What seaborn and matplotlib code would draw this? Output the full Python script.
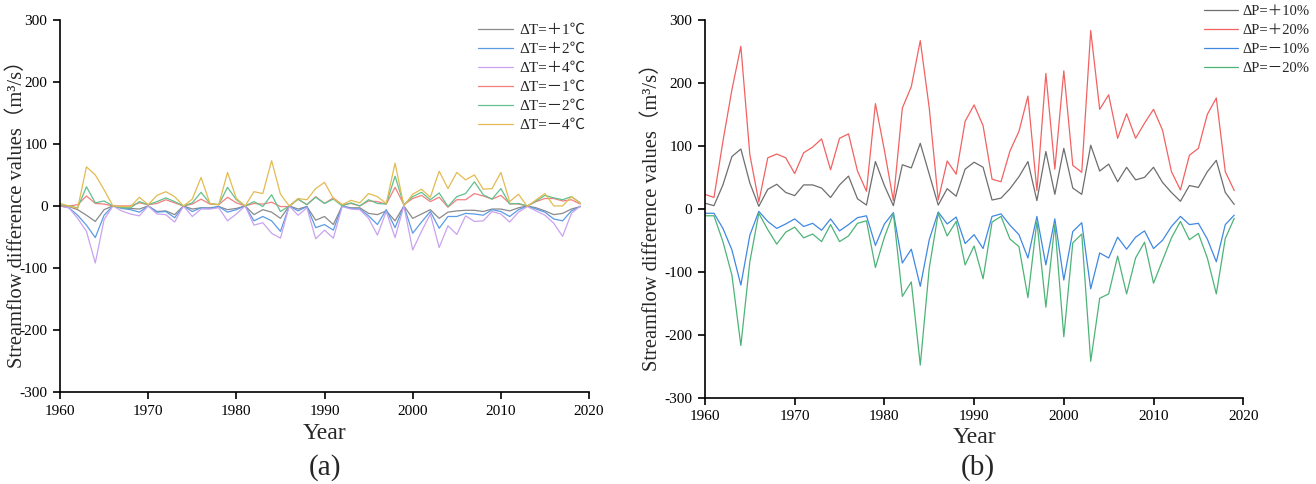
#!/usr/bin/env python3

import pandas as pd
import seaborn as sns
import matplotlib.pyplot as plt

years = list(range(1960, 2020))

# panel (a): temperature change scenarios
t_plus1 = [0, -1, -6, -15, -25, -6, 0, -3, -4, -5, 0, -9, -8, -14, 0, -5, -3, -3, -1, -6,
           -4, 0, -14, -6, -10, -20, 0, -5, -1, -23, -17, -30, 0, -3, -3, -12, -14, -8, -24, 0,
           -20, -13, -6, -20, -10, -8, -7, -7, -9, -5, -5, -8, -3, 0, -3, -8, -14, -12, -5, -1]
t_plus2 = [0, -3, -15, -31, -51, -15, 0, -4, -6, -10, 0, -10, -9, -19, 0, -9, -3, -4, -1, -10,
           -6, 0, -24, -17, -24, -41, 0, -8, -1, -35, -30, -39, 0, -4, -5, -16, -30, -6, -35, 0,
           -44, -26, -9, -36, -17, -17, -12, -13, -15, -6, -9, -17, -6, 0, -5, -10, -21, -24, -8, -1]
t_plus4 = [0, -3, -20, -41, -92, -22, 0, -8, -13, -16, 0, -13, -14, -26, 0, -17, -5, -5, -3, -24,
           -13, 0, -31, -27, -44, -52, 0, -15, -3, -53, -39, -52, -1, -5, -6, -20, -47, -9, -51, 0,
           -71, -41, -13, -67, -32, -46, -16, -25, -24, -9, -13, -26, -10, -1, -8, -15, -28, -49, -12, 0]
t_minus1 = [0, 0, 2, 16, 4, 3, 0, 0, 0, 5, 2, 4, 10, 5, 0, 3, 11, 3, 2, 14,
            5, 0, 4, 3, 6, -1, -1, 11, 2, 15, 4, 13, 2, 4, 0, 8, 7, 3, 30, 2,
            12, 17, 7, 14, -2, 10, 10, 20, 16, 11, 17, 4, 3, 0, 7, 12, 12, 8, 10, 3]
t_minus2 = [2, 0, -3, 31, 5, 8, 0, -3, -3, 7, 2, 7, 13, 7, 0, 5, 22, 4, 2, 30,
            10, 0, 7, -1, 18, -9, 0, 11, 2, 14, 4, 11, 0, 5, 0, 10, 4, 3, 48, 2,
            15, 22, 10, 21, -1, 15, 20, 39, 18, 11, 28, 3, 4, 0, 8, 17, 13, 10, 15, 5]
t_minus4 = [4, 0, -4, 63, 50, 26, 0, -1, -1, 14, 2, 17, 23, 15, 0, 11, 46, 4, 2, 54,
            12, 0, 23, 20, 73, 19, 0, 12, 10, 28, 38, 12, 2, 9, 5, 20, 15, 4, 69, 0,
            19, 27, 14, 56, 28, 54, 42, 50, 27, 28, 54, 7, 19, -1, 10, 20, 0, 0, 15, 4]

# panel (b): precipitation change scenarios
p_plus10 = [9, 5, 38, 83, 95, 41, 4, 31, 39, 26, 21, 38, 38, 33, 18, 38, 52, 16, 6, 75,
            37, 5, 70, 65, 104, 55, 6, 32, 20, 63, 74, 66, 14, 17, 32, 51, 75, 13, 91, 23,
            96, 33, 23, 101, 60, 71, 43, 66, 46, 50, 66, 42, 26, 12, 37, 34, 59, 77, 26, 7]
p_plus20 = [23, 18, 107, 189, 258, 86, 11, 81, 87, 81, 56, 89, 98, 111, 62, 112, 119, 60, 28, 167,
            93, 13, 160, 194, 267, 160, 14, 76, 55, 139, 165, 132, 47, 43, 92, 123, 179, 29, 215, 63,
            219, 69, 58, 283, 158, 181, 112, 151, 112, 136, 158, 125, 59, 30, 85, 96, 150, 176, 59, 29]
p_minus10 = [-7, -7, -31, -65, -121, -42, -4, -20, -31, -24, -16, -28, -23, -34, -16, -35, -25, -14, -11, -58,
             -24, -6, -86, -64, -123, -49, -5, -24, -13, -55, -41, -63, -12, -8, -26, -41, -78, -12, -89, -16,
             -113, -36, -22, -127, -70, -78, -45, -64, -45, -35, -63, -50, -28, -12, -25, -23, -48, -84, -25, -10]
p_minus20 = [-11, -11, -52, -105, -217, -84, -7, -33, -56, -37, -29, -46, -40, -52, -25, -52, -43, -23, -19, -93,
             -45, -7, -139, -116, -248, -94, -7, -43, -20, -89, -59, -111, -21, -12, -48, -60, -141, -20, -156, -25,
             -203, -54, -40, -242, -142, -135, -75, -135, -78, -53, -118, -82, -46, -20, -49, -39, -78, -135, -47, -15]

t_labels = ["ΔT=＋1℃", "ΔT=＋2℃", "ΔT=＋4℃", "ΔT=－1℃", "ΔT=－2℃", "ΔT=－4℃"]
t_colors = ["#8a8a8a", "#5b9be6", "#c9a3ef", "#f47f7f", "#62c08e", "#e3bb52"]
p_labels = ["ΔP=＋10%", "ΔP=＋20%", "ΔP=－10%", "ΔP=－20%"]
p_colors = ["#6e6e6e", "#f26262", "#3f88e3", "#4db377"]

rows = []
for lab, vals in zip(t_labels, [t_plus1, t_plus2, t_plus4, t_minus1, t_minus2, t_minus4]):
    rows += [(y, v, lab) for y, v in zip(years, vals)]
df_t = pd.DataFrame(rows, columns=["year", "value", "scenario"])

rows = []
for lab, vals in zip(p_labels, [p_plus10, p_plus20, p_minus10, p_minus20]):
    rows += [(y, v, lab) for y, v in zip(years, vals)]
df_p = pd.DataFrame(rows, columns=["year", "value", "scenario"])

sns.set_style("ticks")
fonts = ["Liberation Serif", "Noto Sans CJK SC", "DejaVu Sans"]
plt.rcParams["font.family"] = fonts
plt.rcParams["axes.unicode_minus"] = False

fig = plt.figure(figsize=(13.16, 4.84), dpi=100)
ax1 = fig.add_axes([0.0456, 0.190, 0.402, 0.769])
ax2 = fig.add_axes([0.5357, 0.178, 0.409, 0.781])

sns.lineplot(data=df_t, x="year", y="value", hue="scenario", hue_order=t_labels,
             palette=t_colors, linewidth=0.9, ax=ax1)
sns.lineplot(data=df_p, x="year", y="value", hue="scenario", hue_order=p_labels,
             palette=p_colors, linewidth=0.9, ax=ax2)

ylab = "Streamflow difference values（m³/s）"
for ax, lab_y, year_y in [(ax1, -0.062, -0.083), (ax2, -0.080, -0.077)]:
    ax.set_xlim(1960, 2020)
    ax.set_ylim(-300, 300)
    ax.set_xticks(range(1960, 2021, 10))
    ax.set_yticks(range(-300, 301, 100))
    ax.tick_params(axis="both", direction="out", length=5, width=1.2, labelsize=11, pad=4, colors="black")
    for s in ["top", "right"]:
        ax.spines[s].set_visible(False)
    for s in ["left", "bottom"]:
        ax.spines[s].set_linewidth(1.2)
        ax.spines[s].set_color("black")
    ax.set_xlabel("Year", fontsize=17)
    ax.set_ylabel(ylab, fontsize=14.8)
    ax.yaxis.set_label_coords(lab_y, 0.49)
    ax.xaxis.set_label_coords(0.5, year_y)
    ax.legend_.remove()

h1, l1 = ax1.get_legend_handles_labels()
fig.legend(h1, l1, loc="upper left", bbox_to_anchor=(0.3526, 0.98), frameon=False,
           fontsize=11, handlelength=2.3, handletextpad=0.4, labelspacing=0.35)
h2, l2 = ax2.get_legend_handles_labels()
fig.legend(h2, l2, loc="upper left", bbox_to_anchor=(0.9075, 1.012), frameon=False,
           fontsize=10.5, handlelength=2.3, handletextpad=0.3, labelspacing=0.4, borderpad=0.2)

fig.text(0.247, 0.033, "(a)", ha="center", va="center", fontsize=21)
fig.text(0.743, 0.033, "(b)", ha="center", va="center", fontsize=21)

plt.savefig("out.png", dpi=100, facecolor="white")
